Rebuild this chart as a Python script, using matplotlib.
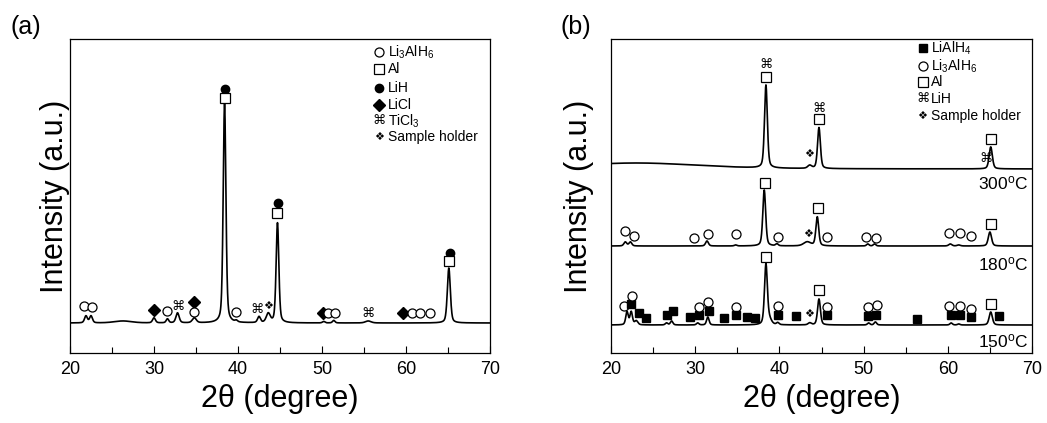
import numpy as np
import matplotlib
matplotlib.use('Agg')
import matplotlib.pyplot as plt
from matplotlib.ticker import MultipleLocator

plt.rcParams['font.family'] = ['Liberation Sans', 'DejaVu Sans']
plt.rcParams['mathtext.fontset'] = 'custom'
plt.rcParams['mathtext.rm'] = 'Liberation Sans'
plt.rcParams['mathtext.it'] = 'Liberation Sans:italic'

# ---- data (y in display units, axis spans 0..314) ----
# peaks: (2theta, height above baseline, fwhm)
base_a = 30
peaks_a = [(21.9, 7, 0.4), (22.5, 7, 0.4), (26.3, 2, 2.5), (30.0, 5, 0.4),
           (31.6, 4, 0.35), (32.8, 10, 0.45), (34.8, 5, 0.55), (38.4, 220, 0.38),
           (39.8, 1.5, 0.35), (42.5, 6, 0.4), (43.6, 9, 0.55), (44.7, 100, 0.38),
           (50.2, 1.5, 0.35), (51.4, 2.5, 0.35), (55.5, 2, 0.8), (65.1, 55, 0.42)]

base_300 = 184
peaks_300 = [(23.0, 6, 18.0), (38.4, 83, 0.4), (43.6, 3, 0.55),
             (44.7, 41, 0.4), (65.1, 22, 0.45)]
base_180 = 107
peaks_180 = [(21.7, 4, 0.4), (22.3, 4, 0.4), (31.4, 5, 0.4), (34.8, 1, 0.35),
             (38.2, 56, 0.4), (39.7, 2, 0.35), (43.3, 4, 1.0), (44.5, 29, 0.4),
             (50.5, 2, 0.35), (51.3, 2, 0.35), (60.3, 2, 0.45), (61.3, 1, 0.45),
             (65.0, 14, 0.45)]
base_150 = 28
peaks_150 = [(21.9, 13, 0.35), (22.4, 13, 0.35), (23.0, 4, 0.45), (26.6, 2, 0.35),
             (27.2, 4, 0.35), (30.3, 2, 0.35), (31.5, 8, 0.35), (38.4, 60, 0.4),
             (38.8, 5, 0.6), (39.8, 2, 0.35), (43.6, 2, 0.45), (44.7, 26, 0.4),
             (50.6, 2, 0.35), (51.4, 3, 0.35), (60.4, 2, 0.35), (61.3, 1, 0.35),
             (65.1, 13, 0.45)]

# phase markers: (2theta, y, symbol)
# o open circle, s open square, f filled circle, d filled diamond,
# q filled square, c TiCl3/LiH sign, h sample holder
marks_a = [(21.7, 47, 'o'), (22.6, 46, 'o'), (30.0, 43, 'd'), (31.5, 42, 'o'),
           (32.9, 47, 'c'), (34.8, 51, 'd'), (34.8, 41, 'o'), (38.4, 264, 'f'),
           (38.4, 255, 's'), (39.8, 41, 'o'), (42.3, 44, 'c'), (43.6, 47, 'h'),
           (44.8, 150, 'f'), (44.7, 140, 's'), (50.1, 40, 'd'), (50.7, 40, 'o'),
           (51.6, 40, 'o'), (55.5, 40, 'c'), (59.6, 40, 'd'), (60.7, 40, 'o'),
           (61.7, 40, 'o'), (62.8, 40, 'o'), (65.2, 100, 'f'), (65.1, 92, 's')]

marks_b = [(38.4, 289, 'c'), (38.4, 276, 's'), (44.7, 244, 'c'), (44.7, 234, 's'),
           (43.5, 199, 'h'), (65.1, 214, 's'), (64.5, 194, 'c'),
           (38.3, 170, 's'), (44.6, 145, 's'), (65.1, 129, 's'),
           (21.7, 122, 'o'), (22.7, 117, 'o'), (29.9, 115, 'o'), (31.5, 119, 'o'),
           (34.8, 119, 'o'), (39.8, 116, 'o'), (43.4, 119, 'h'), (45.7, 116, 'o'),
           (50.3, 116, 'o'), (51.5, 115, 'o'), (60.2, 120, 'o'), (61.5, 120, 'o'),
           (62.7, 117, 'o'),
           (38.4, 96, 's'), (44.7, 63, 's'), (65.1, 49, 's'),
           (21.6, 47, 'o'), (22.4, 49, 'q'), (22.5, 57, 'o'), (23.3, 40, 'q'),
           (24.1, 35, 'q'), (26.6, 38, 'q'), (27.4, 42, 'q'), (29.4, 36, 'q'),
           (30.4, 38, 'q'), (30.5, 46, 'o'), (31.5, 51, 'o'), (31.6, 42, 'q'),
           (33.4, 35, 'q'), (34.9, 46, 'o'), (34.9, 38, 'q'), (36.2, 36, 'q'),
           (37.1, 35, 'q'), (39.8, 47, 'o'), (39.8, 38, 'q'), (42.0, 37, 'q'),
           (43.5, 39, 'h'), (45.7, 46, 'o'), (45.6, 38, 'q'), (50.5, 46, 'o'),
           (50.5, 37, 'q'), (51.6, 48, 'o'), (51.5, 38, 'q'), (56.3, 34, 'q'),
           (60.2, 47, 'o'), (60.4, 38, 'q'), (61.5, 47, 'o'), (61.4, 38, 'q'),
           (62.7, 44, 'o'), (62.8, 36, 'q'), (66.1, 37, 'q')]

legend_a = [('o', 'Li$_3$AlH$_6$'), ('s', 'Al'), ('f', 'LiH'), ('d', 'LiCl'),
            ('c', 'TiCl$_3$'), ('h', 'Sample holder')]
legend_a_y = [301, 284, 265, 248, 232, 216]
legend_b = [('q', 'LiAlH$_4$'), ('o', 'Li$_3$AlH$_6$'), ('s', 'Al'), ('c', 'LiH'),
            ('h', 'Sample holder')]
legend_b_y = [305, 287, 271, 254, 237]

temp_labels = ['300$^{\\mathrm{o}}$C', '180$^{\\mathrm{o}}$C', '150$^{\\mathrm{o}}$C']
temp_y = [170, 89, 12]

x = np.arange(20, 70.001, 0.02)


def pattern(base, peaks):
    y = np.full_like(x, float(base))
    for pos, h, w in peaks:
        g = np.exp(-4 * np.log(2) * ((x - pos) / w) ** 2)
        l = 1 / (1 + 4 * ((x - pos) / w) ** 2)
        y += h * (0.6 * g + 0.4 * l)
    return y


def draw_mark(ax, xx, yy, kind):
    if kind == 'o':
        ax.plot(xx, yy, 'o', ms=6.5, mfc='white', mec='black', mew=0.9, zorder=5)
    elif kind == 's':
        ax.plot(xx, yy, 's', ms=6.5, mfc='white', mec='black', mew=0.9, zorder=5)
    elif kind == 'f':
        ax.plot(xx, yy, 'o', ms=6, color='black', zorder=5)
    elif kind == 'd':
        ax.plot(xx, yy, 'D', ms=6, color='black', zorder=5)
    elif kind == 'q':
        ax.plot(xx, yy, 's', ms=6, color='black', zorder=5)
    elif kind == 'c':
        ax.text(xx, yy, '\u2318', ha='center', va='center', fontsize=9.5,
                family=['DejaVu Sans'], zorder=5)
    elif kind == 'h':
        ax.text(xx, yy, '\u2756', ha='center', va='center', fontsize=8,
                family=['DejaVu Sans'], zorder=5)


def style(ax, lpad):
    ax.set_xlim(20, 70)
    ax.set_ylim(0, 314)
    ax.set_yticks([])
    ax.xaxis.set_major_locator(MultipleLocator(10))
    ax.xaxis.set_minor_locator(MultipleLocator(5))
    ax.tick_params(axis='x', which='both', direction='in', top=False,
                   labelsize=13, pad=6)
    ax.tick_params(axis='x', which='major', length=5, width=0.8)
    ax.tick_params(axis='x', which='minor', length=4, width=0.8)
    for s in ax.spines.values():
        s.set_linewidth(0.9)
    ax.set_xlabel('2\u03b8 (degree)', fontsize=22, labelpad=4)
    ax.set_ylabel('Intensity (a.u.)', fontsize=22, labelpad=lpad)


fig = plt.figure(figsize=(10.47, 4.23), dpi=100)
W, H = 1047, 423
ax1 = fig.add_axes([70 / W, 70 / H, 420 / W, 314 / H])
ax2 = fig.add_axes([611 / W, 70 / H, 421 / W, 314 / H])

ax1.plot(x, pattern(base_a, peaks_a), color='black', lw=1.2)
for xx, yy, k in marks_a:
    draw_mark(ax1, xx, yy, k)
for (k, lab), yy in zip(legend_a, legend_a_y):
    draw_mark(ax1, 56.8, yy, k)
    ax1.text(57.8, yy, lab, ha='left', va='center', fontsize=10)
style(ax1, 0)

ax2.plot(x, pattern(base_300, peaks_300), color='black', lw=1.2)
ax2.plot(x, pattern(base_180, peaks_180), color='black', lw=1.2)
ax2.plot(x, pattern(base_150, peaks_150), color='black', lw=1.2)
for xx, yy, k in marks_b:
    draw_mark(ax2, xx, yy, k)
for (k, lab), yy in zip(legend_b, legend_b_y):
    draw_mark(ax2, 57.0, yy, k)
    ax2.text(58.0, yy, lab, ha='left', va='center', fontsize=10)
for lab, yy in zip(temp_labels, temp_y):
    ax2.text(69.6, yy, lab, ha='right', va='center', fontsize=12.5)
style(ax2, 12)

fig.text(10 / W, 1 - 27 / H, '(a)', fontsize=18, va='center', ha='left')
fig.text(560 / W, 1 - 27 / H, '(b)', fontsize=18, va='center', ha='left')

fig.savefig('out.png', dpi=100)
